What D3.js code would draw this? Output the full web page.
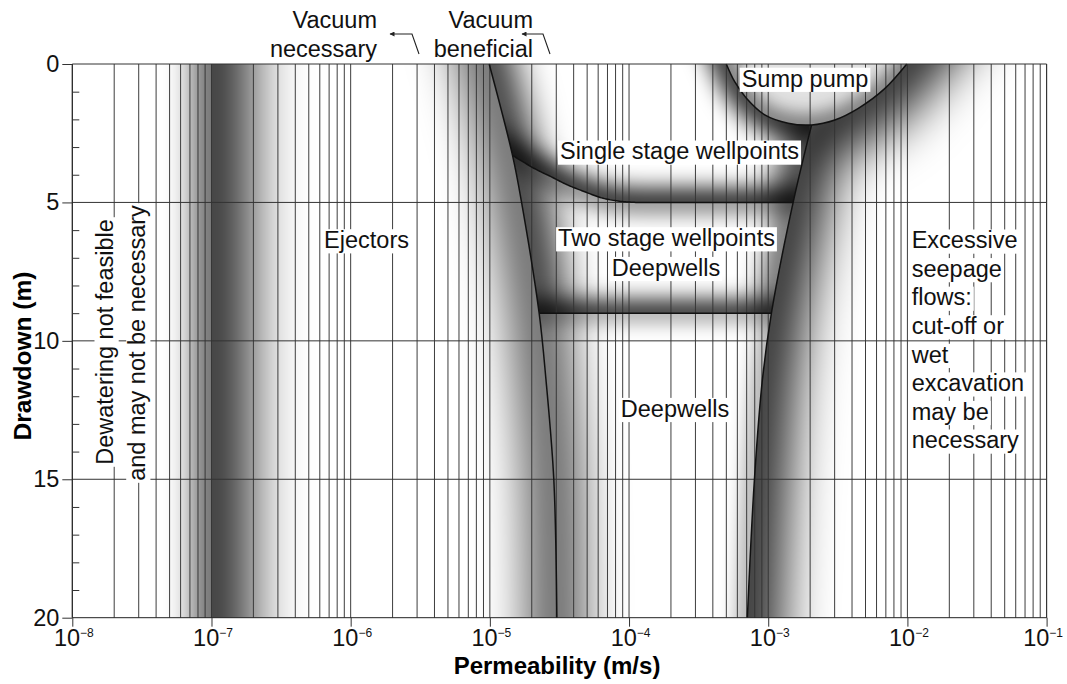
<!DOCTYPE html>
<html>
<head>
<meta charset="utf-8">
<script src="https://cdn.jsdelivr.net/npm/d3@7"></script>
<style>
  body { margin: 0; background: #fff; }
  svg { display: block; font-family: "Liberation Sans", Arial, Helvetica, sans-serif; }
</style>
</head>
<body>
<svg id="chart"></svg>
<script>
// values: permeability (m/s), drawdown (m)
const decadeTicks = [1e-8, 1e-7, 1e-6, 1e-5, 1e-4, 1e-3, 1e-2, 1e-1];
const drawdownTicks = [0, 5, 10, 15, 20];
const minorDrawdownTicks = [1, 2, 3, 4, 6, 7, 8, 9, 11, 12, 13, 14, 16, 17, 18, 19];
const drawdownGrid = [5, 10, 15];
const ejectorLimit = 1e-7;
const singleStageDepth = 5;
const twoStageDepth = 9;

// boundaries as [permeability, drawdown]
const leftBoundary = [[9.89e-6, 0], [1.455e-5, 3.3], [1.69e-5, 5], [2.26e-5, 9], [2.53e-5, 11.4], [2.88e-5, 15], [3.03e-5, 20]];
const rightBoundary = [[2.05e-3, 2.2], [1.51e-3, 5], [1.054e-3, 9], [9.08e-4, 11.4], [7.96e-4, 15], [7.08e-4, 20]];
const sumpBoundary = [[5.0e-4, 0], [5.74e-4, 0.64], [6.97e-4, 1.24], [9.44e-4, 1.84], [1.39e-3, 2.14], [2.05e-3, 2.2], [3.01e-3, 2.02], [4.44e-3, 1.6], [6.9e-3, 0.88], [9.89e-3, 0]];
const singleStageBoundary = [[1.455e-5, 3.3], [2.08e-5, 3.77], [2.75e-5, 4.07], [3.62e-5, 4.37], [4.78e-5, 4.61], [6.3e-5, 4.83], [8.3e-5, 4.95], [1.12e-4, 5]];

const seepageLines = ["Excessive", "seepage", "flows:", "cut-off or", "wet", "excavation", "may be", "necessary"];

const W = 1067, H = 684, FS = 23.5;

const svg = d3.select("#chart").attr("width", W).attr("height", H);
const defs = svg.append("defs");

const x = d3.scaleLog().domain([1e-8, 1e-1]).range([72.3, 1046.6]);
const y = d3.scaleLinear().domain([0, 20]).range([64, 617.7]);
const [x0, x1] = x.range();
const [y0, y1] = y.range();

const curve = d3.line().x(d => x(d[0])).y(d => y(d[1])).curve(d3.curveCatmullRom.alpha(0.5));
const pline = d3.line();

// turn a drawn curve into dense pixel points so regions can share its exact shape
const probe = svg.append("path").attr("fill", "none").attr("stroke", "none");
function sample(points) {
  probe.attr("d", curve(points));
  const node = probe.node(), len = node.getTotalLength(), out = [];
  for (let s = 0; s < len; s += 1.5) {
    const p = node.getPointAtLength(s);
    out.push([p.x, p.y]);
  }
  const e = node.getPointAtLength(len);
  out.push([e.x, e.y]);
  return out;
}

function extend(p, len = 90) {
  const dir = (u, v) => {
    const dx = u[0] - v[0], dy = u[1] - v[1], n = Math.hypot(dx, dy) || 1;
    return [dx / n, dy / n];
  };
  const a = p[0], a2 = p[Math.min(6, p.length - 1)];
  const b = p[p.length - 1], b2 = p[Math.max(p.length - 7, 0)];
  const da = dir(a, a2), db = dir(b, b2);
  return [[a[0] + da[0] * len, a[1] + da[1] * len], ...p, [b[0] + db[0] * len, b[1] + db[1] * len]];
}

const Lp = sample(leftBoundary);
const Rp = sample(rightBoundary);
const Up = sample(sumpBoundary);
const r5 = rightBoundary.find(d => d[1] === singleStageDepth);
const Sp = sample(singleStageBoundary).concat([[x(r5[0]), y(r5[1])]]);
probe.remove();

const xE = x(ejectorLimit);
const xJ = x(rightBoundary[0][0]);
const yS = y(singleStageBoundary[0][1]);
const y5 = y(singleStageDepth), y9 = y(twoStageDepth);
const l9 = leftBoundary.find(d => d[1] === twoStageDepth);
const r9 = rightBoundary.find(d => d[1] === twoStageDepth);
const L9 = [x(l9[0]), y9], R9 = [x(r9[0]), y9];

// regions
const regions = {
  regA: [[x0, y0], [xE, y0], [xE, y1], [x0, y1]],
  regB: [[xE, y0], ...Lp, [xE, y1]],
  regC: [...Up.filter(p => p[0] <= xJ), ...Rp.filter(p => p[1] <= y5), ...Sp.slice().reverse(), ...Lp.filter(p => p[1] <= yS).reverse()],
  regD: Up,
  regE: [[x1, y0], [x1, y1], ...Rp.slice().reverse(), ...Up.filter(p => p[0] >= xJ)],
  regF: [...Sp, ...Rp.filter(p => p[1] > y5 && p[1] < y9), R9, L9, ...Lp.filter(p => p[1] > yS && p[1] < y9).reverse()],
  regG: [L9, ...Lp.filter(p => p[1] > y9), ...Rp.filter(p => p[1] > y9).reverse(), R9]
};
Object.entries(regions).forEach(([id, pts]) => {
  defs.append("clipPath").attr("id", id).append("path").attr("d", pline(pts) + "Z");
});

const blurs = {};
function blurFilter(s) {
  if (!blurs[s]) {
    defs.append("filter").attr("id", "blur" + s)
      .attr("filterUnits", "userSpaceOnUse")
      .attr("x", -200).attr("y", -200).attr("width", W + 400).attr("height", H + 400)
      .append("feGaussianBlur").attr("stdDeviation", s);
    blurs[s] = true;
  }
  return `url(#blur${s})`;
}

function shade(region, edge, w, s, op) {
  svg.append("g").attr("clip-path", `url(#${region})`)
    .append("path")
    .attr("d", pline(extend(edge)))
    .attr("fill", "none")
    .attr("stroke", "#000")
    .attr("stroke-width", w)
    .attr("stroke-opacity", op)
    .attr("filter", blurFilter(s));
}

// background + sump fill
svg.append("rect").attr("width", W).attr("height", H).attr("fill", "#fff");
svg.append("path").attr("d", pline(regions.regD) + "Z").attr("fill", "#e2e2e2");

// soft shading along each boundary
const eLine = [[xE, y0], [xE, y1]];
const line9 = [L9, R9];
const eEdge = [...Rp.slice().reverse(), ...Up.filter(p => p[0] >= xJ)];

shade("regA", eLine, 34, 15, 0.68);
shade("regB", eLine, 76, 28, 0.86);
shade("regB", Lp, 64, 22, 0.58);
shade("regC", Lp, 46, 18, 0.82);
shade("regF", Lp, 56, 20, 0.8);
shade("regG", Lp, 56, 22, 0.62);
shade("regC", Sp, 28, 11, 0.88);
shade("regF", Sp, 24, 10, 0.45);
shade("regF", line9, 26, 11, 0.88);
shade("regG", line9, 20, 9, 0.33);
shade("regC", Rp, 44, 16, 0.78);
shade("regF", Rp, 32, 12, 0.58);
shade("regG", Rp, 22, 9, 0.32);
shade("regE", eEdge, 64, 26, 0.9);
shade("regC", Up, 30, 11, 0.82);
shade("regD", Up, 20, 9, 0.5);

// grid
svg.append("g").selectAll("line").data(x.ticks()).join("line")
  .attr("x1", d => x(d)).attr("x2", d => x(d))
  .attr("y1", y0).attr("y2", y1)
  .attr("stroke", "#333").attr("stroke-width", 0.95);

svg.append("g").selectAll("line").data(drawdownGrid).join("line")
  .attr("x1", x0).attr("x2", x1)
  .attr("y1", d => y(d)).attr("y2", d => y(d))
  .attr("stroke", "#333").attr("stroke-width", 1);

// boundary lines
const bnd = svg.append("g").attr("fill", "none").attr("stroke", "#111").attr("stroke-width", 1.5);
bnd.append("path").attr("d", curve(leftBoundary));
bnd.append("path").attr("d", curve(rightBoundary));
bnd.append("path").attr("d", curve(sumpBoundary));
bnd.append("path").attr("d", pline(Sp));
bnd.append("path").attr("d", pline(line9));

// frame
const frame = svg.append("g").attr("stroke", "#333").attr("stroke-width", 1);
frame.append("line").attr("x1", x0).attr("x2", x1).attr("y1", y0).attr("y2", y0);
frame.append("line").attr("x1", x0).attr("x2", x1).attr("y1", y1).attr("y2", y1).attr("stroke", "#222");
frame.append("line").attr("x1", x0).attr("x2", x0).attr("y1", y0).attr("y2", y1).attr("stroke", "#222");
frame.append("line").attr("x1", x1).attr("x2", x1).attr("y1", y0).attr("y2", y1);

// axes
const yAxis = svg.append("g").attr("transform", `translate(${x0},0)`)
  .call(d3.axisLeft(y).tickValues(drawdownTicks).tickSize(10).tickSizeOuter(0));
yAxis.select(".domain").remove();
yAxis.attr("font-size", FS).attr("font-family", null);
yAxis.selectAll(".tick line").attr("stroke", "#333");
yAxis.selectAll(".tick text").attr("fill", "#111");

const yMinor = svg.append("g").attr("transform", `translate(${x0},0)`)
  .call(d3.axisRight(y).tickValues(minorDrawdownTicks).tickSize(7).tickFormat(""));
yMinor.select(".domain").remove();
yMinor.selectAll(".tick line").attr("stroke", "#333");

const xAxis = svg.append("g").attr("transform", `translate(0,${y1})`)
  .call(d3.axisBottom(x).tickValues(decadeTicks).tickSize(9).tickSizeOuter(0).tickFormat(""));
xAxis.select(".domain").remove();
xAxis.attr("font-size", FS).attr("font-family", null);
xAxis.selectAll(".tick line").attr("stroke", "#333");
xAxis.selectAll(".tick text").each(function(d, i, nodes) {
  const t = d3.select(this).attr("fill", "#111").attr("dx", i === nodes.length - 1 ? -4 : 1);
  t.append("tspan").text("10");
  t.append("tspan").attr("dy", -9).style("font-size", "12px")
    .text("\u2212" + Math.abs(Math.round(Math.log10(d))));
});

svg.append("text")
  .attr("x", 557).attr("y", 674)
  .attr("text-anchor", "middle")
  .style("font-size", "24px").style("font-weight", "bold")
  .text("Permeability (m/s)");

svg.append("text")
  .attr("transform", "translate(31,356) rotate(-90)")
  .attr("text-anchor", "middle")
  .style("font-size", "24.5px").style("font-weight", "bold")
  .text("Drawdown (m)");

// labels with white boxes
function label(str, px, py, anchor = "middle", rotate = 0, boxed = true) {
  const g = svg.append("g").attr("transform", `translate(${px},${py}) rotate(${rotate})`);
  const r = g.append("rect").attr("fill", "#fff");
  const t = g.append("text").attr("text-anchor", anchor)
    .style("font-size", FS + "px").attr("fill", "#111").text(str);
  const w = t.node().getComputedTextLength();
  const left = anchor === "middle" ? -w / 2 : anchor === "end" ? -w : 0;
  if (boxed) {
    r.attr("x", left - 2).attr("y", -0.8 * FS).attr("width", w + 4).attr("height", FS * 1.03);
  } else {
    r.remove();
  }
  return g;
}

label("Sump pump", 805, 86.5);
label("Single stage wellpoints", 679.5, 159.3);
label("Two stage wellpoints", 666.5, 246);
label("Deepwells", 666, 275.7);
label("Deepwells", 675, 416.7);
label("Ejectors", 366.5, 248);
seepageLines.forEach((s, i) => label(s, 911.7, 248.3 + i * 28.57, "start"));
label("Dewatering not feasible", 113.3, 342, "middle", -90);
label("and may not be necessary", 145, 343, "middle", -90);

label("Vacuum", 377, 28.3, "end", 0, false);
label("necessary", 377, 56.7, "end", 0, false);
label("Vacuum", 533, 28.3, "end", 0, false);
label("beneficial", 533, 56.7, "end", 0, false);

// vacuum arrows
defs.append("marker").attr("id", "head")
  .attr("viewBox", "0 0 10 10").attr("refX", 9).attr("refY", 5)
  .attr("markerWidth", 7).attr("markerHeight", 5).attr("markerUnits", "userSpaceOnUse")
  .attr("orient", "auto")
  .append("path").attr("d", "M0,0L10,5L0,10Z").attr("fill", "#222");

[[[419, 54], [412, 34], [390, 34]], [[550, 54], [543, 34], [522, 34]]].forEach(a => {
  svg.append("path").attr("d", pline(a)).attr("fill", "none")
    .attr("stroke", "#222").attr("stroke-width", 1.1)
    .attr("marker-end", "url(#head)");
});
</script>
</body>
</html>
